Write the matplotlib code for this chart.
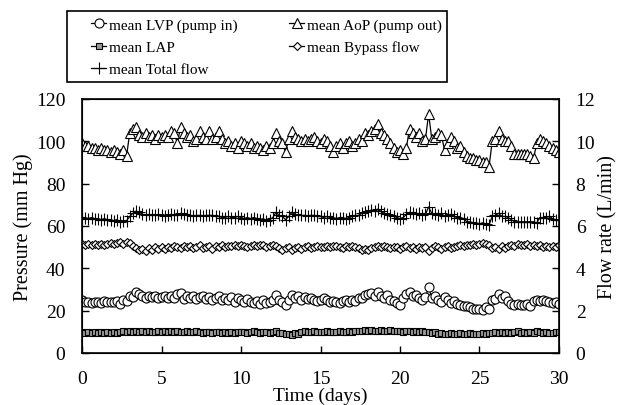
import numpy as np
import matplotlib
matplotlib.use("Agg")
import matplotlib.pyplot as plt
from matplotlib.patches import Rectangle

plt.rcParams['font.family'] = ['Liberation Serif', 'DejaVu Serif']

# time axis: 0.2-day steps, 0..30 days
days = np.arange(151) * 0.2

# mean AoP (pump out), mm Hg
aop = [99, 98, 98, 97, 97,  96, 97, 96, 96, 95,  96, 95, 94, 96, 93,
       104, 106, 107, 103, 102,  104, 102, 103, 101, 103,  102, 103, 102, 105, 104,
       99, 107, 104, 102, 103,  100, 101, 105, 102, 101,  105, 101, 102, 105, 101,
       99, 100, 98, 99, 97,  100, 99, 98, 99, 97,  98, 97, 96, 98, 97,
       99, 104, 100, 99, 95,  101, 105, 102, 101, 100,  101, 100, 101, 102, 100,
       99, 101, 100, 98, 95,  98, 99, 97, 99, 100,  98, 99, 101, 100, 104,
       103, 105, 106, 108, 104,  103, 101, 99, 97, 95,  96, 94, 97, 106, 104,
       102, 104, 100, 101, 113,  101, 102, 104, 103, 96,  99, 102, 100, 97, 98,
       95, 93, 92, 92, 91,  91, 90, 90, 88, 100,  101, 105, 101, 100, 100,
       98, 94, 94, 94, 94,  94, 93, 92, 99, 101,  100, 99, 98, 97, 96,
       95]

# mean LVP (pump in), mm Hg
lvp = [25, 24, 24, 23.5, 24,  24, 23.5, 24.5, 24, 24,  24, 24.5, 23, 25, 24.5,
       27, 26.5, 29, 28, 27,  26, 27, 26.5, 27, 26,  26.5, 27, 26, 27, 26,
       28, 28.5, 25.5, 27, 26,  27, 25.5, 26.5, 27, 25.5,  26.5, 25, 26, 27, 25,
       26, 25, 26.5, 24, 26,  25, 24, 25.5, 24, 23.5,  24.5, 23, 25, 23.5, 24,
       25, 27.5, 25, 24, 22.5,  25, 27.5, 26, 27, 25,  26.5, 25.5, 26, 25, 24.5,
       25, 26, 25, 24, 24.5,  24, 23.5, 24.5, 25, 24,  25, 24.5, 26, 26, 27.5,
       28, 28.5, 27, 29, 27,  26, 27.5, 25, 24.5, 23.5,  22.5, 26, 28, 29, 27,
       27.5, 26, 25, 26.5, 31,  26, 27, 25, 24, 26.5,  25, 23.5, 24.5, 23, 22.5,
       22, 22, 21.5, 21, 21,  21, 20.5, 21.5, 21, 25,  25.5, 28, 26, 27, 24.5,
       23, 22.5, 23, 22.5, 22.5,  23, 22, 24.5, 25, 24.5,  25, 24.5, 24, 23.5, 24,
       23]

# mean LAP, mm Hg
lap = [10, 9.5, 10, 9.5, 10,  9.5, 10, 9.5, 10, 9.5,  10, 9.5, 10, 10.5, 10,
       10.5, 10, 10.5, 10, 10.5,  10, 10.5, 10, 10, 10.5,  10, 10.5, 10, 10.5, 10,
       10.5, 10, 10, 10.5, 10,  10, 10.5, 10, 9.5, 10,  10, 9.5, 10, 10, 9.5,
       10, 9.5, 10, 9.5, 10,  10, 10, 9.5, 10, 10.5,  10, 9.5, 10, 10, 9.5,
       10, 10.5, 9.5, 9.5, 9,  9, 8.5, 9.5, 9, 10,  10.5, 10, 10, 10.5, 10,
       10, 10, 10.5, 10, 10,  10, 10.5, 10, 10, 10.5,  10, 10.5, 10.5, 10.5, 11,
       10.5, 11, 10.5, 10.5, 11,  10.5, 10.5, 11, 10.5, 10.5,  10.5, 10, 10.5, 10.5, 10,
       10.5, 10, 10.5, 10, 10,  9.5, 10, 9, 9.5, 9,  9, 9.5, 9, 9, 9.5,
       9, 9, 9.5, 9, 9,  9, 9.5, 9, 9.5, 9.5,  10, 9.5, 10, 9.5, 10,
       9.5, 10, 10.5, 9.5, 10,  9.5, 10, 9.5, 10.5, 10,  9.5, 10, 9.5, 9.5, 10,
       10]

# mean Bypass flow, L/min
bypass = [5.15, 5.1, 5.15, 5.1, 5.15,  5.1, 5.15, 5.1, 5.15, 5.2,  5.15, 5.2, 5.25, 5.15, 5.25,
          5.2, 5.05, 4.95, 4.85, 4.9,  4.8, 4.95, 4.85, 5.0, 4.9,  5.0, 4.9, 5.0, 4.95, 5.05,
          5.0, 4.95, 5.05, 5.0, 5.05,  4.95, 5.0, 5.1, 4.95, 5.0,  5.05, 4.9, 5.05, 5.0, 5.1,
          5.0, 5.05, 5.05, 5.1, 5.05,  5.1, 5.05, 5.0, 5.05, 5.1,  5.05, 5.1, 5.1, 5.0, 5.05,
          5.1, 5.05, 4.95, 4.85, 4.95,  5.0, 4.85, 4.95, 5.0, 4.9,  5.0, 5.05, 4.95, 5.0, 5.05,
          5.0, 5.0, 5.05, 5.0, 5.05,  5.05, 5.0, 4.95, 5.05, 5.0,  5.05, 5.0, 4.95, 4.85, 4.9,
          4.85, 4.95, 5.0, 5.05, 5.0,  5.05, 5.0, 4.95, 5.0, 5.0,  4.9, 5.0, 5.05, 4.95, 5.0,
          4.9, 5.0, 4.95, 5.0, 4.8,  4.95, 5.05, 5.0, 4.9, 5.0,  5.05, 4.95, 5.0, 5.05, 5.1,
          5.05, 5.1, 5.1, 5.15, 5.1,  5.15, 5.2, 5.15, 5.1, 4.95,  5.0, 4.9, 5.05, 4.95, 5.05,
          5.1, 5.05, 5.15, 5.1, 5.1,  5.15, 5.05, 5.1, 5.05, 5.1,  5.0, 5.05, 5.0, 5.05, 5.0,
          5.1]

# mean Total flow, L/min
total = [6.4, 6.4, 6.35, 6.4, 6.35,  6.35, 6.3, 6.35, 6.3, 6.3,  6.25, 6.3, 6.2, 6.25, 6.25,
         6.45, 6.6, 6.7, 6.65, 6.55,  6.5, 6.55, 6.5, 6.5, 6.55,  6.5, 6.45, 6.5, 6.55, 6.5,
         6.5, 6.6, 6.55, 6.5, 6.5,  6.45, 6.5, 6.5, 6.45, 6.5,  6.5, 6.5, 6.45, 6.45, 6.4,
         6.4, 6.45, 6.4, 6.4, 6.45,  6.4, 6.35, 6.4, 6.35, 6.4,  6.35, 6.3, 6.35, 6.25, 6.3,
         6.4, 6.65, 6.5, 6.45, 6.3,  6.45, 6.65, 6.55, 6.5, 6.5,  6.5, 6.45, 6.5, 6.5, 6.45,
         6.45, 6.4, 6.45, 6.4, 6.4,  6.35, 6.4, 6.4, 6.35, 6.4,  6.45, 6.5, 6.5, 6.6, 6.65,
         6.7, 6.75, 6.7, 6.8, 6.7,  6.6, 6.55, 6.5, 6.45, 6.4,  6.35, 6.4, 6.55, 6.65, 6.6,
         6.55, 6.6, 6.5, 6.55, 6.9,  6.6, 6.55, 6.5, 6.6, 6.45,  6.5, 6.55, 6.45, 6.4, 6.4,
         6.35, 6.2, 6.2, 6.15, 6.15,  6.1, 6.15, 6.1, 6.05, 6.45,  6.5, 6.6, 6.45, 6.45, 6.4,
         6.3, 6.2, 6.2, 6.2, 6.2,  6.2, 6.2, 6.2, 6.15, 6.4,  6.4, 6.4, 6.45, 6.35, 6.3,
         6.3]

fig = plt.figure(figsize=(6.29, 4.06), dpi=100)
ax = fig.add_axes([0.1304, 0.1281, 0.7583, 0.6256])
ax2 = ax.twinx()

kw = dict(color='black', linewidth=0.9, markeredgecolor='black', markeredgewidth=0.8)
l_lvp, = ax.plot(days, lvp, marker='o', markersize=6.5, markerfacecolor='white', **kw)
l_aop, = ax.plot(days, aop, marker='^', markersize=7, markerfacecolor='white', **kw)
l_lap, = ax.plot(days, lap, marker='s', markersize=5, markerfacecolor='0.6', **kw)
l_byp, = ax2.plot(days, bypass, marker='D', markersize=4.5, markerfacecolor='white', **kw)
l_tot, = ax2.plot(days, total, marker='+', markersize=8, **kw)

ax.set_xlim(0, 30)
ax.set_ylim(0, 120)
ax2.set_ylim(0, 12)
ax.set_xticks([0, 5, 10, 15, 20, 25, 30])
ax.set_yticks(np.arange(0, 121, 20))
ax2.set_yticks(np.arange(0, 13, 2))

ax.set_xlabel('Time (days)', fontsize=14, labelpad=0)
ax.set_ylabel('Pressure (mm Hg)', fontsize=14.5, labelpad=2)
ax2.set_ylabel('Flow rate (L/min)', fontsize=14.5, labelpad=2)

for a in (ax, ax2):
    a.tick_params(direction='in', labelsize=14, length=5, width=1, pad=12)
ax.tick_params(axis='x', pad=12)
for sp in ax2.spines.values():
    sp.set_linewidth(1.2)

# legend frame drawn separately (wide left margin as in the original)
fig.patches.append(Rectangle((67 / 629, 1 - 83 / 406), 380 / 629, 71 / 406,
                             transform=fig.transFigure, fill=False,
                             edgecolor='black', linewidth=1.2))
fig.legend([l_lvp, l_lap, l_tot, l_aop, l_byp],
           ['mean LVP (pump in)', 'mean LAP', 'mean Total flow',
            'mean AoP (pump out)', 'mean Bypass flow'],
           loc='upper left', bbox_to_anchor=(91 / 629, 1 - 19 / 406),
           ncol=2, fontsize=11, frameon=False, handlelength=1.0,
           handletextpad=0.15, columnspacing=3.4, labelspacing=0.55,
           borderaxespad=0, borderpad=0)

fig.savefig('out.png', dpi=100)
